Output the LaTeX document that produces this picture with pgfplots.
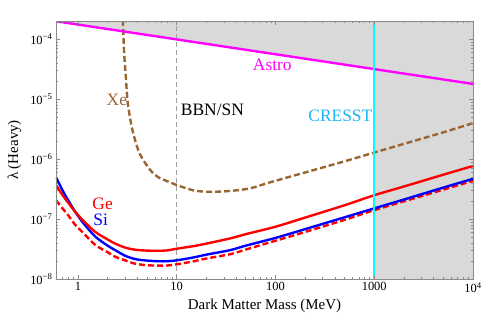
\documentclass[border=0pt]{standalone}
\usepackage{fontspec}
\setmainfont{Liberation Serif}
\usepackage{pgfplots}
\pgfplotsset{compat=1.18}
\usetikzlibrary{calc}
\definecolor{xebrown}{HTML}{996633}
\definecolor{cresst}{HTML}{1EB4F5}
\definecolor{axgray}{HTML}{8A8A8A}
\definecolor{shade}{HTML}{D9D9D9}
\definecolor{bbngray}{HTML}{A0A0A0}
\definecolor{astro}{RGB}{255,0,255}
\definecolor{cline}{RGB}{0,255,255}
\definecolor{gered}{RGB}{255,0,0}
\definecolor{siblue}{RGB}{0,0,255}

\begin{document}
\begin{tikzpicture}
\begin{axis}[
  xmode=log, ymode=log,
  scale only axis, width=417bp, height=258bp,
  xmin=0.6, xmax=1e4, ymin=1e-8, ymax=2.02e-4,
  axis on top,
  axis line style={axgray, line width=0.6pt},
  tick style={axgray, line width=0.5pt},
  major tick length=4.5bp, minor tick length=2.5bp,
  xtick={1,10,100,1000,10000},
  xticklabels={1,10,100,1000,10\textsuperscript{4}},
  ytick={1e-8,1e-7,1e-6,1e-5,1e-4},
  yticklabels={10\textsuperscript{−8},10\textsuperscript{−7},10\textsuperscript{−6},10\textsuperscript{−5},10\textsuperscript{−4}},
  minor xtick={0.6,0.7,0.8,0.9,2,3,4,5,6,7,8,9,20,30,40,50,60,70,80,90,200,300,400,500,600,700,800,900,2000,3000,4000,5000,6000,7000,8000,9000},
  minor ytick={2e-8,3e-8,4e-8,5e-8,6e-8,7e-8,8e-8,9e-8,2e-7,3e-7,4e-7,5e-7,6e-7,7e-7,8e-7,9e-7,2e-6,3e-6,4e-6,5e-6,6e-6,7e-6,8e-6,9e-6,2e-5,3e-5,4e-5,5e-5,6e-5,7e-5,8e-5,9e-5,2e-4},
  tick label style={font=\fontsize{12.5}{14}\selectfont, black},
  xlabel={Dark Matter Mass (MeV)},
  ylabel={λ (Heavy)},
  label style={font=\fontsize{15}{18}\selectfont},
  ylabel shift=2bp,
]
\coordinate (sw) at (rel axis cs:0,0);
\coordinate (ne) at (rel axis cs:1,1);

% excluded regions
\addplot[draw=none, fill=shade] coordinates {(0.6,2.0e-4) (1e4,1.8e-5) (1e4,3e-4) (0.6,3e-4)} -- cycle;
\addplot[draw=none, fill=shade] coordinates {(1000,1e-9) (1e4,1e-9) (1e4,3e-4) (1000,3e-4)} -- cycle;

% BBN/SN
\addplot[bbngray, line width=0.8pt, dash pattern=on 5bp off 3bp] coordinates {(10,1e-8) (10,3e-4)};

% Xe
\addplot[xebrown, line width=2.4pt, dash pattern=on 6bp off 3bp, smooth] coordinates {
  (2.85,2.1e-4) (2.94,5.8e-5) (3.05,2.5e-5) (3.2,8.6e-6) (3.56,3.1e-6) (4.2,1.26e-6)
  (5.4,6.6e-7) (6.5,5.0e-7) (8.9,4.0e-7) (10,3.7e-7) (15,3.0e-7) (22,2.85e-7)
  (35,2.95e-7) (55,3.25e-7) (88,4.1e-7) (200,6.0e-7) (500,9.2e-7) (1000,1.29e-6)
  (2000,1.8e-6) (5000,2.8e-6) (10000,4.0e-6)};

% Ge dashed
\addplot[gered, line width=2.4pt, dash pattern=on 6bp off 3bp, smooth] coordinates {
  (0.6,2.07e-7) (0.7,1.5e-7) (0.8,1.15e-7) (0.94,8.0e-8) (1.14,5.8e-8) (1.5,3.7e-8)
  (2.0,2.8e-8) (2.38,2.36e-8) (3.0,2.05e-8) (3.8,1.8e-8) (5,1.7e-8) (6.5,1.67e-8)
  (8,1.68e-8) (10,1.76e-8) (15,1.98e-8) (20,2.2e-8) (35,2.6e-8) (50,3.1e-8)
  (100,4.35e-8) (200,6.1e-8) (500,9.7e-8) (1000,1.41e-7) (2000,1.98e-7)
  (5000,3.1e-7) (10000,4.35e-7)};

% Si
\addplot[siblue, line width=2.4pt, smooth] coordinates {
  (0.6,5.0e-7) (0.7,3.0e-7) (0.8,2.04e-7) (0.94,1.32e-7) (1.14,8.5e-8) (1.5,5.1e-8)
  (2.0,3.6e-8) (2.38,3.04e-8) (3.0,2.45e-8) (3.8,2.15e-8) (5,2.03e-8) (6.5,1.98e-8)
  (8,1.98e-8) (10,2.05e-8) (15,2.3e-8) (20,2.55e-8) (35,3.04e-8) (50,3.6e-8)
  (100,4.85e-8) (200,6.8e-8) (500,1.07e-7) (1000,1.51e-7) (2000,2.12e-7)
  (5000,3.35e-7) (10000,4.7e-7)};

% Ge
\addplot[gered, line width=2.4pt, smooth] coordinates {
  (0.6,3.7e-7) (0.7,2.5e-7) (0.8,1.86e-7) (0.94,1.32e-7) (1.14,9.3e-8) (1.5,6.1e-8)
  (2.0,4.57e-8) (2.38,3.9e-8) (3.0,3.35e-8) (3.8,3.08e-8) (5,2.98e-8) (6.5,2.96e-8)
  (8,3.0e-8) (10,3.2e-8) (15,3.55e-8) (20,3.9e-8) (35,4.77e-8) (50,5.6e-8)
  (100,7.45e-8) (200,1.06e-7) (500,1.7e-7) (1000,2.5e-7) (2000,3.5e-7)
  (5000,5.5e-7) (10000,7.7e-7)};

% Astro
\addplot[astro, line width=2.4pt] coordinates {(0.6,2.0e-4) (10000,1.8e-5)};

% CRESST
\addplot[cline, line width=2.4pt] coordinates {(1000,1e-9) (1000,3e-4)};

\node[astro, font=\fontsize{17.5}{20}\selectfont] at (axis cs:93,3.7e-5) {Astro};
\node[black, font=\fontsize{17.5}{20}\selectfont] at (axis cs:23,6.6e-6) {BBN/SN};
\node[cresst, font=\fontsize{17.5}{20}\selectfont] at (axis cs:454,5.3e-6) {CRESST};
\node[xebrown, font=\fontsize{17.5}{20}\selectfont] at (axis cs:2.48,9.7e-6) {Xe};
\node[gered, font=\fontsize{17.5}{20}\selectfont] at (axis cs:1.78,1.81e-7) {Ge};
\node[siblue, font=\fontsize{17.5}{20}\selectfont] at (axis cs:1.70,9.6e-8) {Si};
\end{axis}
\pgfresetboundingbox
\path ($(sw)+(-56bp,-47bp)$) rectangle ($(ne)+(12bp,21bp)$);
\end{tikzpicture}
\end{document}
